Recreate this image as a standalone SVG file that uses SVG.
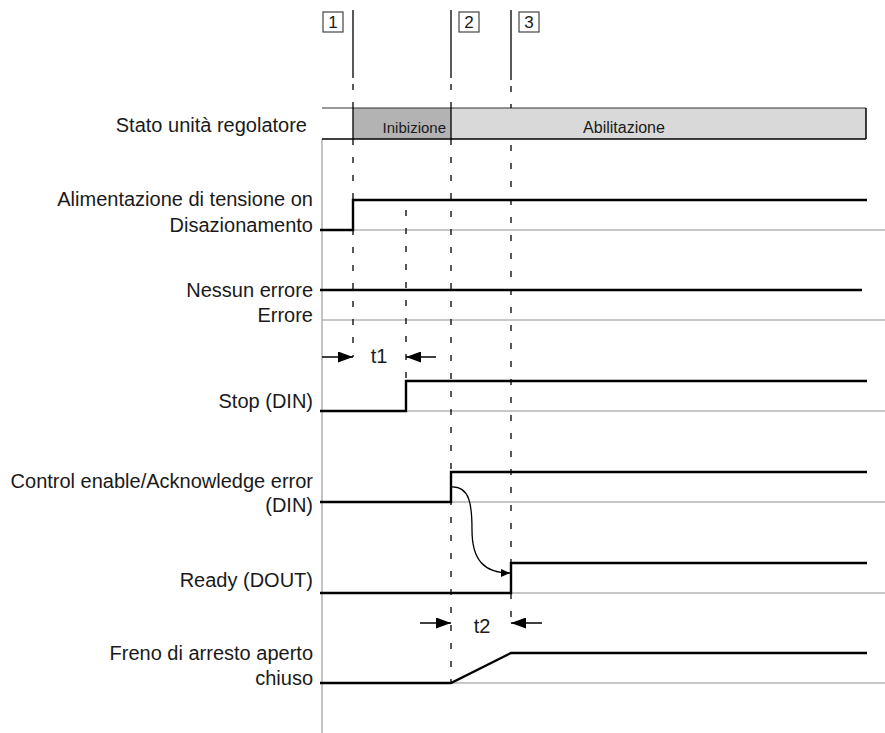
<svg xmlns="http://www.w3.org/2000/svg" width="885" height="733" viewBox="0 0 885 733">
<defs>
<style>
.lbl{font-family:"Liberation Sans",Arial,sans-serif;font-size:20px;fill:#1a1a1a;text-anchor:end}
.sm{font-family:"Liberation Sans",Arial,sans-serif;font-size:16px;fill:#1a1a1a}
.num{font-family:"Liberation Sans",Arial,sans-serif;font-size:17px;fill:#1a1a1a;text-anchor:middle}
.sig{fill:none;stroke:#000;stroke-width:2.4;stroke-linejoin:miter}
.base{fill:none;stroke:#b4b4b4;stroke-width:1.5}
.dash{fill:none;stroke:#000;stroke-width:1.3;stroke-dasharray:6 12}
.solid{fill:none;stroke:#000;stroke-width:1.3}
.dim{fill:none;stroke:#000;stroke-width:1.5}
.box{fill:#fff;stroke:#444;stroke-width:1.2}
</style>
<marker id="ah" viewBox="0 0 15 11" refX="15" refY="5.5" markerWidth="15" markerHeight="11" markerUnits="userSpaceOnUse" orient="auto">
<path d="M0,0 L15,5.5 L0,11 Z" fill="#000"/>
</marker>
<marker id="ahs" viewBox="0 0 9 8" refX="9" refY="4" markerWidth="9" markerHeight="8" markerUnits="userSpaceOnUse" orient="auto">
<path d="M0,0 L9,4 L0,8 Z" fill="#000"/>
</marker>
</defs>
<rect width="885" height="733" fill="#fff"/>

<!-- axis -->
<line x1="322" y1="139" x2="322" y2="733" stroke="#c4c4c4" stroke-width="2"/>

<!-- baselines -->
<g id="baselines">
<line class="base" x1="322" y1="230" x2="885" y2="230"/>
<line class="base" x1="322" y1="320" x2="885" y2="320"/>
<line class="base" x1="322" y1="411" x2="885" y2="411"/>
<line class="base" x1="322" y1="502" x2="885" y2="502"/>
<line class="base" x1="322" y1="593" x2="885" y2="593"/>
<line class="base" x1="322" y1="683" x2="885" y2="683"/>
</g>

<!-- markers 1 2 3 -->
<g id="m1">
<rect class="box" x="323" y="12" width="20" height="20"/>
<text class="num" x="333" y="28">1</text>
</g>
<g id="m2">
<rect class="box" x="459" y="12" width="20" height="20"/>
<text class="num" x="469" y="28">2</text>
</g>
<g id="m3">
<rect class="box" x="519" y="12" width="20" height="20"/>
<text class="num" x="529" y="28">3</text>
</g>

<!-- state bar -->
<g id="stato">
<text class="lbl" x="307" y="132">Stato unità regolatore</text>
<rect x="353" y="108" width="98" height="31" fill="#b3b3b3"/>
<rect x="451" y="108" width="415" height="31" fill="#d9d9d9"/>
<line x1="322" y1="108" x2="866" y2="108" stroke="#333" stroke-width="1.2"/>
<line x1="322" y1="139" x2="866" y2="139" stroke="#000" stroke-width="1.5"/>
<line x1="866" y1="108" x2="866" y2="139" stroke="#000" stroke-width="1.5"/>
<line x1="353" y1="108" x2="353" y2="139" stroke="#000" stroke-width="1.3"/>
<line x1="451" y1="108" x2="451" y2="139" stroke="#000" stroke-width="1.3"/>
<text class="sm" x="446" y="133" text-anchor="end" style="font-size:15px">Inibizione</text>
<text class="sm" x="624" y="133" text-anchor="middle">Abilitazione</text>
</g>

<!-- connectors: time marker lines, dimension arrows, cause arrow -->
<g id="connectors">
<line class="solid" x1="353" y1="10" x2="353" y2="78"/>
<line class="solid" x1="451" y1="10" x2="451" y2="78"/>
<line class="solid" x1="511" y1="10" x2="511" y2="80"/>
<line class="dash" x1="353" y1="84" x2="353" y2="108"/>
<line class="dash" x1="353" y1="139" x2="353" y2="357"/>
<line class="dash" x1="451" y1="84" x2="451" y2="108"/>
<line class="dash" x1="451" y1="139" x2="451" y2="683"/>
<line class="dash" x1="511" y1="86" x2="511" y2="108"/>
<line class="dash" x1="511" y1="145" x2="511" y2="563"/>
<line class="dash" x1="511" y1="593" x2="511" y2="626"/>
<line class="dash" x1="406" y1="210" x2="406" y2="381"/>
<line class="dim" x1="322" y1="357" x2="353" y2="357" marker-end="url(#ah)"/>
<line class="dim" x1="436" y1="357" x2="406" y2="357" marker-end="url(#ah)"/>
<text class="num" x="379" y="363" style="font-size:20px">t1</text>
<line class="dim" x1="420" y1="623" x2="451" y2="623" marker-end="url(#ah)"/>
<line class="dim" x1="542" y1="623" x2="511" y2="623" marker-end="url(#ah)"/>
<text class="num" x="482" y="633" style="font-size:20px">t2</text>
<path d="M451,487 C470,486 472,505 472,530 C472,560 484,573 510,573" fill="none" stroke="#000" stroke-width="1.3" marker-end="url(#ahs)"/>
</g>

<g id="alimentazione">
<text class="lbl" x="313" y="206">Alimentazione di tensione on</text>
<text class="lbl" x="313" y="232">Disazionamento</text>
<polyline class="sig" points="320,230 353,230 353,200 867,200"/>
</g>

<g id="errore">
<text class="lbl" x="313" y="297">Nessun errore</text>
<text class="lbl" x="313" y="322">Errore</text>
<polyline class="sig" points="320,290 862,290"/>
</g>

<g id="stop">
<text class="lbl" x="313" y="408">Stop (DIN)</text>
<polyline class="sig" points="320,411 406,411 406,381 867,381"/>
</g>

<g id="control">
<text class="lbl" x="313" y="488">Control enable/Acknowledge error</text>
<text class="lbl" x="313" y="512">(DIN)</text>
<polyline class="sig" points="320,502 451,502 451,472 867,472"/>
</g>

<g id="ready">
<text class="lbl" x="313" y="587">Ready (DOUT)</text>
<polyline class="sig" points="320,593 511,593 511,563 867,563"/>
</g>

<g id="freno">
<text class="lbl" x="313" y="660">Freno di arresto aperto</text>
<text class="lbl" x="313" y="685">chiuso</text>
<polyline class="sig" points="320,683 451,683 511,653 867,653"/>
</g>
</svg>
